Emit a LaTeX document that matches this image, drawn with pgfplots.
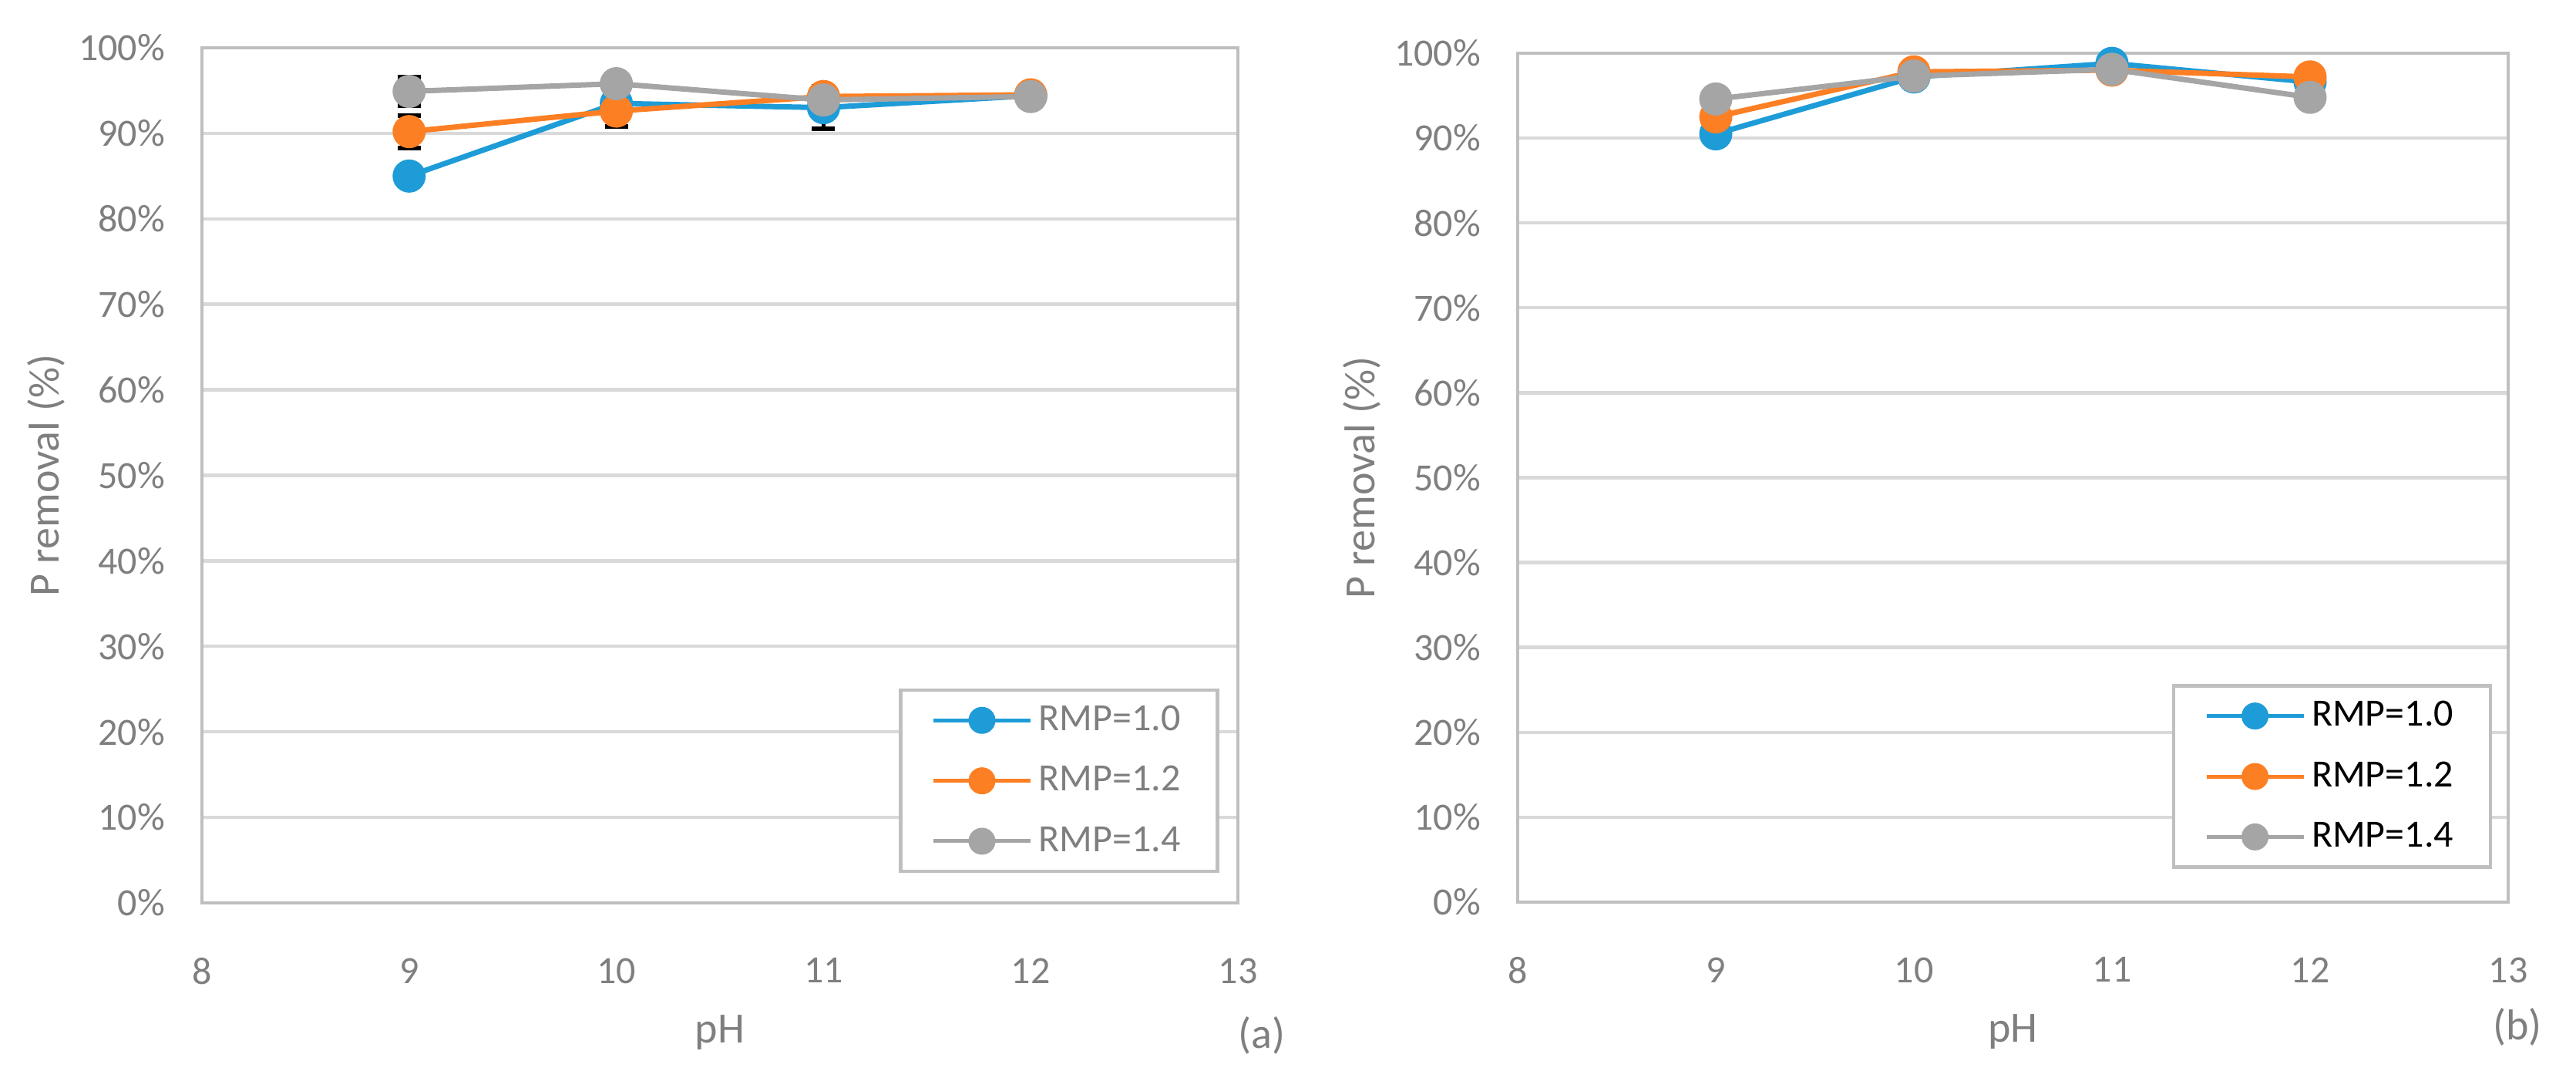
\documentclass[border=0pt]{standalone}
\usepackage{fontspec}
\setmainfont{Carlito}
\usepackage{pgfplots}
\pgfplotsset{compat=1.18}
\definecolor{cblue}{HTML}{1E9CD8}
\definecolor{corange}{HTML}{FD7F23}
\definecolor{cgray}{HTML}{A5A5A5}
\definecolor{gridc}{HTML}{D9D9D9}
\definecolor{axc}{HTML}{BFBFBF}
\definecolor{txt}{HTML}{7F7F7F}
\pgfplotsset{
  excel/.style={
    scale only axis,
    xmin=8, xmax=13, ymin=0, ymax=100,
    xtick={8,9,...,13}, ytick={0,10,...,100},
    yticklabel={\pgfmathprintnumber{\tick}\%},
    /pgf/number format/assume math mode=true,
    ymajorgrids,
    grid style={color=gridc, line width=1.1pt},
    axis line style={color=axc, line width=1.2pt},
    major tick length=0pt,
    tick style={draw=none},
    ticklabel style={color=txt, font=\fontsize{12.5}{15}\selectfont},
    xticklabel shift=14.4pt,
    yticklabel shift=8.5pt,
    label style={color=txt, font=\fontsize{14}{17}\selectfont},
    xlabel={pH}, ylabel={P removal (\%)},
    legend cell align=left,
    legend image code/.code={\draw[##1, line width=1.25pt, mark size=3.75pt, mark repeat=2, mark phase=2] plot coordinates {(0pt,0pt) (15.75pt,0pt) (31.5pt,0pt)};},
    legend style={anchor=north east, draw=axc, line width=1.2pt, fill=white,
      font=\fontsize{12.5}{15}\selectfont, inner xsep=10pt, inner ysep=3pt,
      row sep=6pt, /tikz/every even column/.append style={column sep=2pt}},
  },
  sblue/.style={color=cblue, line width=1.75pt, mark=*, mark size=4.5pt, mark options={fill=cblue, draw=cblue, solid}},
  sorange/.style={color=corange, line width=1.75pt, mark=*, mark size=4.5pt, mark options={fill=corange, draw=corange, solid}},
  sgray/.style={color=cgray, line width=1.75pt, mark=*, mark size=4.5pt, mark options={fill=cgray, draw=cgray, solid}},
  eb/.style={error bars/.cd, y dir=both, y explicit, error mark=-, error bar style={black, line width=1.2pt}, error mark options={rotate=90, black, line width=1.5pt, mark size=3.75pt}},
}
\begin{document}
\begin{tikzpicture}
\useasboundingbox (0,0) rectangle (835.5pt,347.25pt);
% ---------- panel (a)
\begin{axis}[excel, at={(65.5pt,54.5pt)}, anchor=south west, width=336pt, height=277.25pt,
  xlabel style={at={(axis description cs:0.5,-0.1515)}, anchor=center},
  ylabel style={at={(axis description cs:-0.1503,0.5)}, anchor=center},
  legend style={at={(0.982,0.251)}, text=txt}]
\addplot[sblue, eb] coordinates {(9,85.0) +- (0,0.6) (10,93.5) +- (0,2.7) (11,93.0) +- (0,2.5) (12,94.4) +- (0,0.9)};
\addlegendentry{RMP=1.0}
\addplot[sorange, eb] coordinates {(9,90.2) +- (0,1.9) (10,92.6) +- (0,0.6) (11,94.3) +- (0,0.8) (12,94.5) +- (0,0.5)};
\addlegendentry{RMP=1.2}
\addplot[sgray, eb] coordinates {(9,94.9) +- (0,1.7) (10,95.8) +- (0,0.5) (11,93.9) +- (0,0.5) (12,94.3) +- (0,0.5)};
\addlegendentry{RMP=1.4}
\end{axis}
% ---------- panel (b)
\begin{axis}[excel, at={(492.25pt,54.75pt)}, anchor=south west, width=321.25pt, height=275.25pt,
  xlabel style={at={(axis description cs:0.5,-0.1526)}, anchor=center},
  ylabel style={at={(axis description cs:-0.1572,0.5)}, anchor=center},
  legend style={at={(0.984,0.257)}, text=black}]
\addplot[sblue, eb] coordinates {(9,90.5) +- (0,0.8) (10,97.2) +- (0,0.3) (11,98.8) +- (0,0.3) (12,96.6) +- (0,0.7)};
\addlegendentry{RMP=1.0}
\addplot[sorange, eb] coordinates {(9,92.5) +- (0,0.6) (10,97.8) +- (0,0.3) (11,98.0) +- (0,0.3) (12,97.2) +- (0,0.6)};
\addlegendentry{RMP=1.2}
\addplot[sgray, eb] coordinates {(9,94.6) +- (0,0.5) (10,97.3) +- (0,0.3) (11,98.1) +- (0,0.3) (12,94.8) +- (0,0.6)};
\addlegendentry{RMP=1.4}
\end{axis}
\node[text=txt, font=\fontsize{14}{17}\selectfont] at (409.25pt,11.5pt) {(a)};
\node[text=txt, font=\fontsize{14}{17}\selectfont] at (816.5pt,14.25pt) {(b)};
\end{tikzpicture}
\end{document}
